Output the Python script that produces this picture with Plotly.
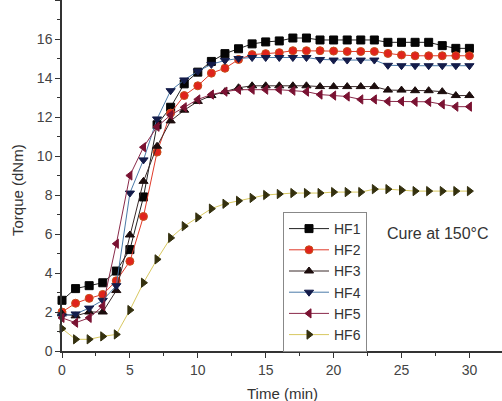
import plotly.graph_objects as go

time_min = list(range(31))

HF1 = [2.6, 3.2, 3.35, 3.5, 4.1, 5.2, 7.9, 11.6, 12.5, 13.7, 14.3, 14.85, 15.25, 15.5, 15.75, 15.85,
       15.9, 16.05, 16.05, 15.95, 15.95, 15.95, 15.95, 15.95, 15.83, 15.83, 15.83, 15.83, 15.66, 15.52, 15.52]
HF2 = [2.0, 2.45, 2.7, 2.9, 3.6, 4.6, 6.9, 10.2, 12.2, 13.1, 13.6, 14.25, 14.5, 14.95, 15.2, 15.25,
       15.3, 15.4, 15.4, 15.4, 15.38, 15.36, 15.36, 15.36, 15.26, 15.18, 15.14, 15.14, 15.14, 15.14, 15.14]
HF3 = [1.9, 1.8, 2.0, 2.0, 3.1, 5.95, 8.7, 10.5, 11.8, 12.35, 12.8, 13.1, 13.3, 13.5, 13.6, 13.6,
       13.6, 13.6, 13.6, 13.56, 13.56, 13.56, 13.56, 13.56, 13.38, 13.38, 13.35, 13.35, 13.3, 13.1, 13.1]
HF4 = [1.8, 1.9, 2.2, 2.6, 3.35, 8.1, 9.8, 11.9, 13.35, 13.9, 14.35, 14.7, 14.9, 15.0, 15.05, 15.05,
       15.05, 15.05, 15.05, 14.95, 14.92, 14.92, 14.92, 14.92, 14.65, 14.63, 14.63, 14.63, 14.63, 14.63, 14.63]
HF5 = [1.7, 1.45, 1.7, 2.3, 5.5, 9.0, 10.45, 11.5, 12.1, 12.5, 12.9, 13.15, 13.3, 13.4, 13.4, 13.4,
       13.4, 13.35, 13.3, 13.15, 13.1, 13.05, 12.9, 12.9, 12.8, 12.8, 12.78, 12.78, 12.65, 12.53, 12.53]
HF6 = [1.15, 0.6, 0.6, 0.75, 0.85, 2.1, 3.5, 4.7, 5.8, 6.4, 6.85, 7.3, 7.55, 7.7, 7.85, 8.0,
       8.05, 8.1, 8.1, 8.1, 8.15, 8.15, 8.15, 8.3, 8.3, 8.25, 8.2, 8.2, 8.2, 8.2, 8.2]

names = ["HF1", "HF2", "HF3", "HF4", "HF5", "HF6"]
series = [HF1, HF2, HF3, HF4, HF5, HF6]
symbols = ["square", "circle", "triangle-up", "triangle-down", "triangle-left", "triangle-right"]
marker_colors = ["#050505", "#e0231c", "#1c0d0d", "#141c4a", "#7a1232", "#34300e"]
marker_edges = ["#050505", "#c8501a", "#1c0d0d", "#141c4a", "#7a1232", "#34300e"]
line_colors = ["#222222", "#e03a2a", "#3a2a2a", "#4a7aa8", "#8a2a4a", "#d8c860"]

fig = go.Figure()
for n, s, sym, mc, me, lc in zip(names, series, symbols, marker_colors, marker_edges, line_colors):
    fig.add_trace(go.Scatter(
        x=time_min, y=s, name=n, mode="lines+markers",
        line=dict(color=lc, width=1),
        marker=dict(symbol=sym, size=8, color=mc, line=dict(color=me, width=1)),
        cliponaxis=False,
    ))

W, H = 502, 401
L, B = 62, 50
pw, ph = W - L, H - B

def px(xp):
    return (xp - L) / pw

def py(yp):
    return (ph - yp) / ph

fig.update_layout(
    width=W, height=H,
    margin=dict(l=L, r=0, t=0, b=B),
    paper_bgcolor="white", plot_bgcolor="white",
    font=dict(family="Liberation Sans, Arial, sans-serif", color="#333333"),
    showlegend=True,
    legend=dict(
        x=px(283), y=py(212), xanchor="left", yanchor="top",
        bordercolor="#888888", borderwidth=1, bgcolor="white",
        font=dict(size=14, color="#333333"),
        itemwidth=40, tracegroupgap=0,
    ),
    xaxis=dict(
        range=[0, 32.4], showgrid=False, zeroline=False,
        showline=True, linecolor="#333333", linewidth=1.5,
        ticks="outside", ticklen=5, tickwidth=1, tickcolor="#333333",
        tickvals=[0, 5, 10, 15, 20, 25, 30],
        tickfont=dict(size=14, color="#444444"),
        minor=dict(ticks="outside", ticklen=3, tickcolor="#333333", dtick=2.5, tick0=0),
    ),
    yaxis=dict(
        range=[0, 18], showgrid=False, zeroline=False,
        showline=True, linecolor="#333333", linewidth=1.5,
        ticks="outside", ticklen=5, tickwidth=1, tickcolor="#333333",
        tickvals=[0, 2, 4, 6, 8, 10, 12, 14, 16, 18],
        tickfont=dict(size=14, color="#444444"),
        minor=dict(ticks="outside", ticklen=3, tickcolor="#333333", dtick=1, tick0=0),
    ),
    annotations=[
        dict(text="Torque (dNm)", textangle=-90, xref="paper", yref="paper",
             x=px(18), y=py(190), xanchor="center", yanchor="middle",
             showarrow=False, font=dict(size=15, color="#333333")),
        dict(text="Time (min)", xref="paper", yref="paper",
             x=px(282), y=py(393), xanchor="center", yanchor="middle",
             showarrow=False, font=dict(size=15, color="#333333")),
        dict(text="Cure at 150°C", xref="paper", yref="paper",
             x=px(385), y=py(233), xanchor="left", yanchor="middle", showarrow=False,
             font=dict(size=16, color="#333333")),
    ],
)

fig.write_html("out.html", config={"displayModeBar": False},
               post_script="document.body.style.margin='0';document.body.style.overflow='hidden';")
